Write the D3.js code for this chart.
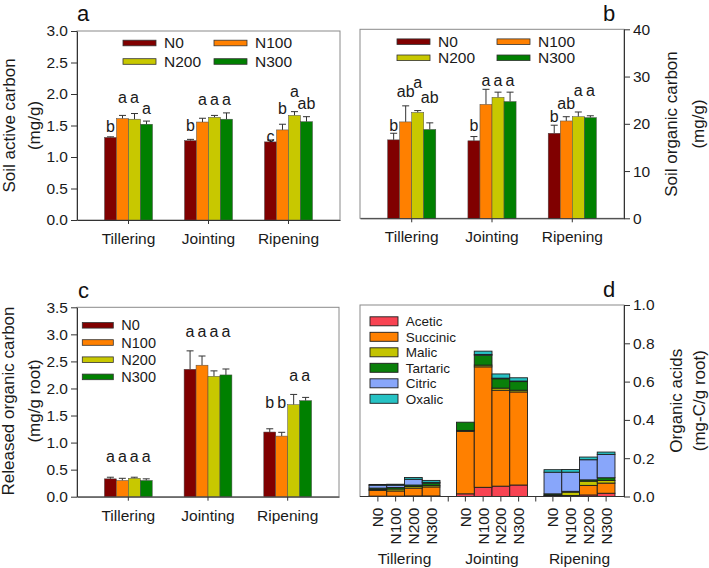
<!DOCTYPE html>
<html><head><meta charset="utf-8">
<script src="https://cdn.jsdelivr.net/npm/d3@7"></script>
<style>body{margin:0;background:#fff}svg{display:block;font-family:"Liberation Sans",Arial,sans-serif}</style>
</head><body><svg id="chart" width="709" height="568"></svg>
<script>
// ---------- data ----------
const stages = ["Tillering", "Jointing", "Ripening"];
const treatments = ["N0", "N100", "N200", "N300"];

// panel a: soil active carbon (mg/g)
const activeCarbon    = [[1.31, 1.61, 1.60, 1.52], [1.26, 1.555, 1.63, 1.60], [1.24, 1.43, 1.66, 1.56]];
const activeCarbonErr = [[0.01, 0.05, 0.09, 0.05], [0.02, 0.06, 0.03, 0.10], [0.03, 0.09, 0.06, 0.08]];
const activeLetters   = [["b", "a", "a", "a"], ["b", "a", "a", "a"], ["c", "b", "a", "ab"]];
const activeLetterAt  = [[1.39, 1.85, 1.85, 1.69], [1.42, 1.83, 1.83, 1.83], [1.24, 1.69, 1.95, 1.76]];
const activeTicks = [0, 0.5, 1.0, 1.5, 2.0, 2.5, 3.0];

// panel b: soil organic carbon (mg/g)
const organicCarbon    = [[16.6, 20.4, 22.4, 18.8], [16.4, 24.1, 25.6, 24.7], [18.0, 20.6, 21.5, 21.3]];
const organicCarbonErr = [[1.4, 3.4, 0.4, 1.4], [0.9, 3.2, 1.1, 2.0], [1.7, 0.9, 1.0, 0.4]];
const organicLetters   = [["b", "ab", "a", "ab"], ["b", "a", "a", "a"], ["b", "ab", "a", "a"]];
const organicLetterAt  = [[18.5, 25.6, 27.5, 24.5], [18.5, 28.1, 28.1, 28.1], [20.3, 23.1, 25.9, 25.9]];
const organicTicks = [0, 10, 20, 30, 40];

// panel c: released organic carbon (mg/g root)
const releasedCarbon    = [[0.33, 0.30, 0.34, 0.30], [2.355, 2.43, 2.225, 2.25], [1.195, 1.12, 1.70, 1.775]];
const releasedCarbonErr = [[0.03, 0.04, 0.02, 0.03], [0.34, 0.17, 0.10, 0.11], [0.06, 0.07, 0.19, 0.06]];
const releasedLetters   = [["a", "a", "a", "a"], ["a", "a", "a", "a"], ["b", "b", "a", "a"]];
const releasedLetterAt  = [[0.65, 0.65, 0.65, 0.65], [2.95, 2.95, 2.95, 2.95], [1.63, 1.63, 2.14, 2.14]];
const releasedTicks = [0, 0.5, 1.0, 1.5, 2.0, 2.5, 3.0, 3.5];

// panel d: organic acids (mg-C/g root), order: Tillering N0..N300, Jointing N0..N300, Ripening N0..N300
const acids = ["Acetic", "Succinic", "Malic", "Tartaric", "Citric", "Oxalic"];
const acetic   = [0.002, 0.002, 0.003, 0.003, 0.014, 0.048, 0.054, 0.060, 0.002, 0.002, 0.008, 0.017];
const succinic = [0.030, 0.027, 0.041, 0.047, 0.326, 0.629, 0.501, 0.486, 0.002, 0.003, 0.050, 0.053];
const malic    = [0.005, 0.010, 0.008, 0.008, 0.005, 0.009, 0.011, 0.009, 0.004, 0.018, 0.022, 0.014];
const tartaric = [0.007, 0.008, 0.008, 0.012, 0.043, 0.052, 0.049, 0.045, 0.006, 0.004, 0.007, 0.014];
const citric   = [0.015, 0.012, 0.030, 0.004, 0.000, 0.004, 0.003, 0.003, 0.113, 0.100, 0.105, 0.122];
const oxalic   = [0.004, 0.005, 0.009, 0.010, 0.000, 0.017, 0.022, 0.017, 0.013, 0.014, 0.014, 0.012];
const acidTicks = [0, 0.2, 0.4, 0.6, 0.8, 1.0];

// ---------- styles ----------
const treatColors = ["#800000", "#ff8000", "#c8c800", "#008000"];
const acidColors = ["#f84352", "#ff8000", "#c4c400", "#0a7f0a", "#88a6fa", "#26c2c4"];
const FONT = 15.5;

const svg = d3.select("#chart");
svg.append("rect").attr("width", 709).attr("height", 568).attr("fill", "#fff");

function styleAxis(sel) {
  sel.selectAll("path").attr("stroke", "#333").attr("stroke-width", 1);
  sel.selectAll("line").attr("stroke", "#333").attr("stroke-width", 1);
  sel.selectAll("text").attr("font-size", FONT).attr("fill", "#1a1a1a").attr("font-family", '"Liberation Sans",Arial,sans-serif');
}

function rotLabel(x, yc, txt, size) {
  svg.append("text").attr("transform", `translate(${x},${yc}) rotate(-90)`)
    .attr("text-anchor", "middle").attr("font-size", size).attr("fill", "#1a1a1a").text(txt);
}

function barPanel(p) {
  const g = svg.append("g").attr("transform", `translate(${p.left},${p.top})`);
  const x = d3.scaleBand().domain(stages).range([0, p.w]).paddingInner(0.4).paddingOuter(0.344);
  const xs = d3.scaleBand().domain(treatments).range([0, x.bandwidth()]);
  const y = d3.scaleLinear().domain([p.ticks[0], p.ticks[p.ticks.length - 1]]).range([p.h, 0]);

  g.append("rect").attr("width", p.w).attr("height", p.h).attr("fill", "none").attr("stroke", "#8a8a8a");

  stages.forEach((s, i) => {
    const gg = g.append("g").attr("transform", `translate(${x(s)},0)`);
    treatments.forEach((t, j) => {
      const v = p.values[i][j], e = p.errs[i][j];
      const cx = xs(t) + xs.bandwidth() / 2;
      gg.append("line").attr("x1", cx).attr("x2", cx).attr("y1", y(v)).attr("y2", y(v + e))
        .attr("stroke", "#333").attr("stroke-width", 1);
      gg.append("line").attr("x1", cx - 3.5).attr("x2", cx + 3.5).attr("y1", y(v + e)).attr("y2", y(v + e))
        .attr("stroke", "#333").attr("stroke-width", 1);
      gg.append("rect").attr("x", xs(t)).attr("y", y(v)).attr("width", xs.bandwidth())
        .attr("height", y(0) - y(v)).attr("fill", treatColors[j]).attr("stroke", "#4a4a4a").attr("stroke-width", 0.5);
      gg.append("text").attr("x", cx).attr("y", y(p.letterAt[i][j])).attr("text-anchor", "middle")
        .attr("font-size", 16).attr("fill", "#1a1a1a").text(p.letters[i][j]);
    });
  });

  const yAxis = (p.side === "left" ? d3.axisLeft(y) : d3.axisRight(y))
    .tickValues(p.ticks).tickFormat(d3.format(p.fmt)).tickSize(6).tickPadding(3).tickSizeOuter(0);
  g.append("g").attr("transform", p.side === "left" ? null : `translate(${p.w},0)`).call(yAxis).call(styleAxis);
  g.append("g").attr("transform", `translate(0,${p.h})`)
    .call(d3.axisBottom(x).tickSize(4).tickPadding(9).tickSizeOuter(0)).call(styleAxis);

  // legend
  p.legend.forEach((it, k) => {
    g.append("rect").attr("x", it.x).attr("y", it.y - 2.8).attr("width", it.w).attr("height", 5.6)
      .attr("fill", treatColors[k]).attr("stroke", "#333").attr("stroke-width", 0.8);
    g.append("text").attr("x", it.x + it.w + 8).attr("y", it.y).attr("dy", "0.35em")
      .attr("font-size", p.legendFont).attr("fill", "#1a1a1a").text(treatments[k]);
  });
}

// panel a
barPanel({
  left: 77, top: 31, w: 263, h: 189, side: "left", ticks: activeTicks, fmt: ".1f",
  values: activeCarbon, errs: activeCarbonErr, letters: activeLetters, letterAt: activeLetterAt,
  legendFont: 15.5,
  legend: [{x: 46, y: 12, w: 33}, {x: 137, y: 12, w: 33}, {x: 46, y: 30.5, w: 33}, {x: 137, y: 30.5, w: 33}]
});
// panel b
barPanel({
  left: 360, top: 29.3, w: 264, h: 189, side: "right", ticks: organicTicks, fmt: "d",
  values: organicCarbon, errs: organicCarbonErr, letters: organicLetters, letterAt: organicLetterAt,
  legendFont: 15.5,
  legend: [{x: 37, y: 12.4, w: 33}, {x: 137, y: 12.4, w: 33}, {x: 37, y: 28.5, w: 33}, {x: 137, y: 28.5, w: 33}]
});
// panel c
barPanel({
  left: 77, top: 307.3, w: 262, h: 189.4, side: "left", ticks: releasedTicks, fmt: ".1f",
  values: releasedCarbon, errs: releasedCarbonErr, letters: releasedLetters, letterAt: releasedLetterAt,
  legendFont: 14.5,
  legend: [{x: 5.3, y: 18, w: 31}, {x: 5.3, y: 35.2, w: 31}, {x: 5.3, y: 52.4, w: 31}, {x: 5.3, y: 69.6, w: 31}]
});

// panel d (stacked)
(function () {
  const L = 360, T = 305, W = 264, H = 191.5;
  const g = svg.append("g").attr("transform", `translate(${L},${T})`);
  const acidSeries = [acetic, succinic, malic, tartaric, citric, oxalic];
  const rows = [];
  stages.forEach((s, i) => treatments.forEach((t, j) => {
    const r = {stage: s, treatment: t};
    acids.forEach((a, k) => { r[a] = acidSeries[k][i * 4 + j]; });
    rows.push(r);
  }));
  const series = d3.stack().keys(acids)(rows);
  const x = d3.scaleBand().domain(stages).range([0, W]).paddingInner(0.189).paddingOuter(0.103);
  const xs = d3.scaleBand().domain(treatments).range([0, x.bandwidth()]);
  const y = d3.scaleLinear().domain([0, 1]).range([H, 0]);

  g.append("rect").attr("width", W).attr("height", H).attr("fill", "none").attr("stroke", "#8a8a8a");

  series.forEach((ser, k) => {
    g.append("g").selectAll("rect").data(ser).join("rect")
      .attr("x", d => x(d.data.stage) + xs(d.data.treatment))
      .attr("y", d => y(d[1]))
      .attr("width", xs.bandwidth())
      .attr("height", d => Math.max(0, y(d[0]) - y(d[1])))
      .attr("fill", acidColors[k]).attr("stroke", "#1e1e1e").attr("stroke-width", 0.9);
  });

  g.append("g").attr("transform", `translate(${W},0)`)
    .call(d3.axisRight(y).tickValues(acidTicks).tickFormat(d3.format(".1f")).tickSize(6).tickPadding(3).tickSizeOuter(0))
    .call(styleAxis);
  // bottom axis line and ticks
  g.append("line").attr("x1", 0).attr("x2", W).attr("y1", H).attr("y2", H).attr("stroke", "#333");
  const tickXs = [];
  stages.forEach(s => treatments.forEach(t => tickXs.push(x(s) + xs(t) + xs.bandwidth() / 2)));
  for (let i = 0; i < stages.length - 1; i++) {
    tickXs.push((x(stages[i]) + x.bandwidth() + x(stages[i + 1])) / 2);
  }
  g.append("g").selectAll("line").data(tickXs).join("line")
    .attr("x1", d => d).attr("x2", d => d).attr("y1", H).attr("y2", H + 5).attr("stroke", "#333");
  // rotated treatment labels
  stages.forEach(s => treatments.forEach(t => {
    const cx = x(s) + xs(t) + xs.bandwidth() / 2;
    g.append("text").attr("transform", `translate(${cx},${H + 11}) rotate(-90)`)
      .attr("text-anchor", "end").attr("dy", "0.36em").attr("font-size", FONT).attr("fill", "#1a1a1a").text(t);
  }));
  stages.forEach(s => {
    g.append("text").attr("x", x(s) + x.bandwidth() / 2).attr("y", H + 67)
      .attr("text-anchor", "middle").attr("font-size", FONT).attr("fill", "#1a1a1a").text(s);
  });
  // legend
  acids.forEach((a, k) => {
    const yy = 16.3 + k * 15.5;
    g.append("rect").attr("x", 10).attr("y", yy - 4.5).attr("width", 28).attr("height", 9)
      .attr("fill", acidColors[k]).attr("stroke", "#1e1e1e").attr("stroke-width", 0.9);
    g.append("text").attr("x", 45.7).attr("y", yy).attr("dy", "0.35em").attr("font-size", 13.5)
      .attr("fill", "#1a1a1a").text(a);
  });
})();

// axis titles
rotLabel(15.4, 125.5, "Soil active carbon", 17);
rotLabel(40.4, 125.5, "(mg/g)", 17);
rotLabel(677.4, 124, "Soil organic carbon", 17);
rotLabel(704.4, 124, "(mg/g)", 17);
rotLabel(14, 401, "Released organic carbon", 17);
rotLabel(40.4, 401, "(mg/g root)", 17);
rotLabel(682.4, 400.7, "Organic acids", 17);
rotLabel(705.4, 400.7, "(mg-C/g root)", 17);

// panel letters
[["a", 77, 21], ["b", 603, 21], ["c", 78, 298], ["d", 603, 297]].forEach(([t, px, py]) => {
  svg.append("text").attr("x", px).attr("y", py).attr("font-size", 22).attr("fill", "#111").text(t);
});
</script></body></html>
